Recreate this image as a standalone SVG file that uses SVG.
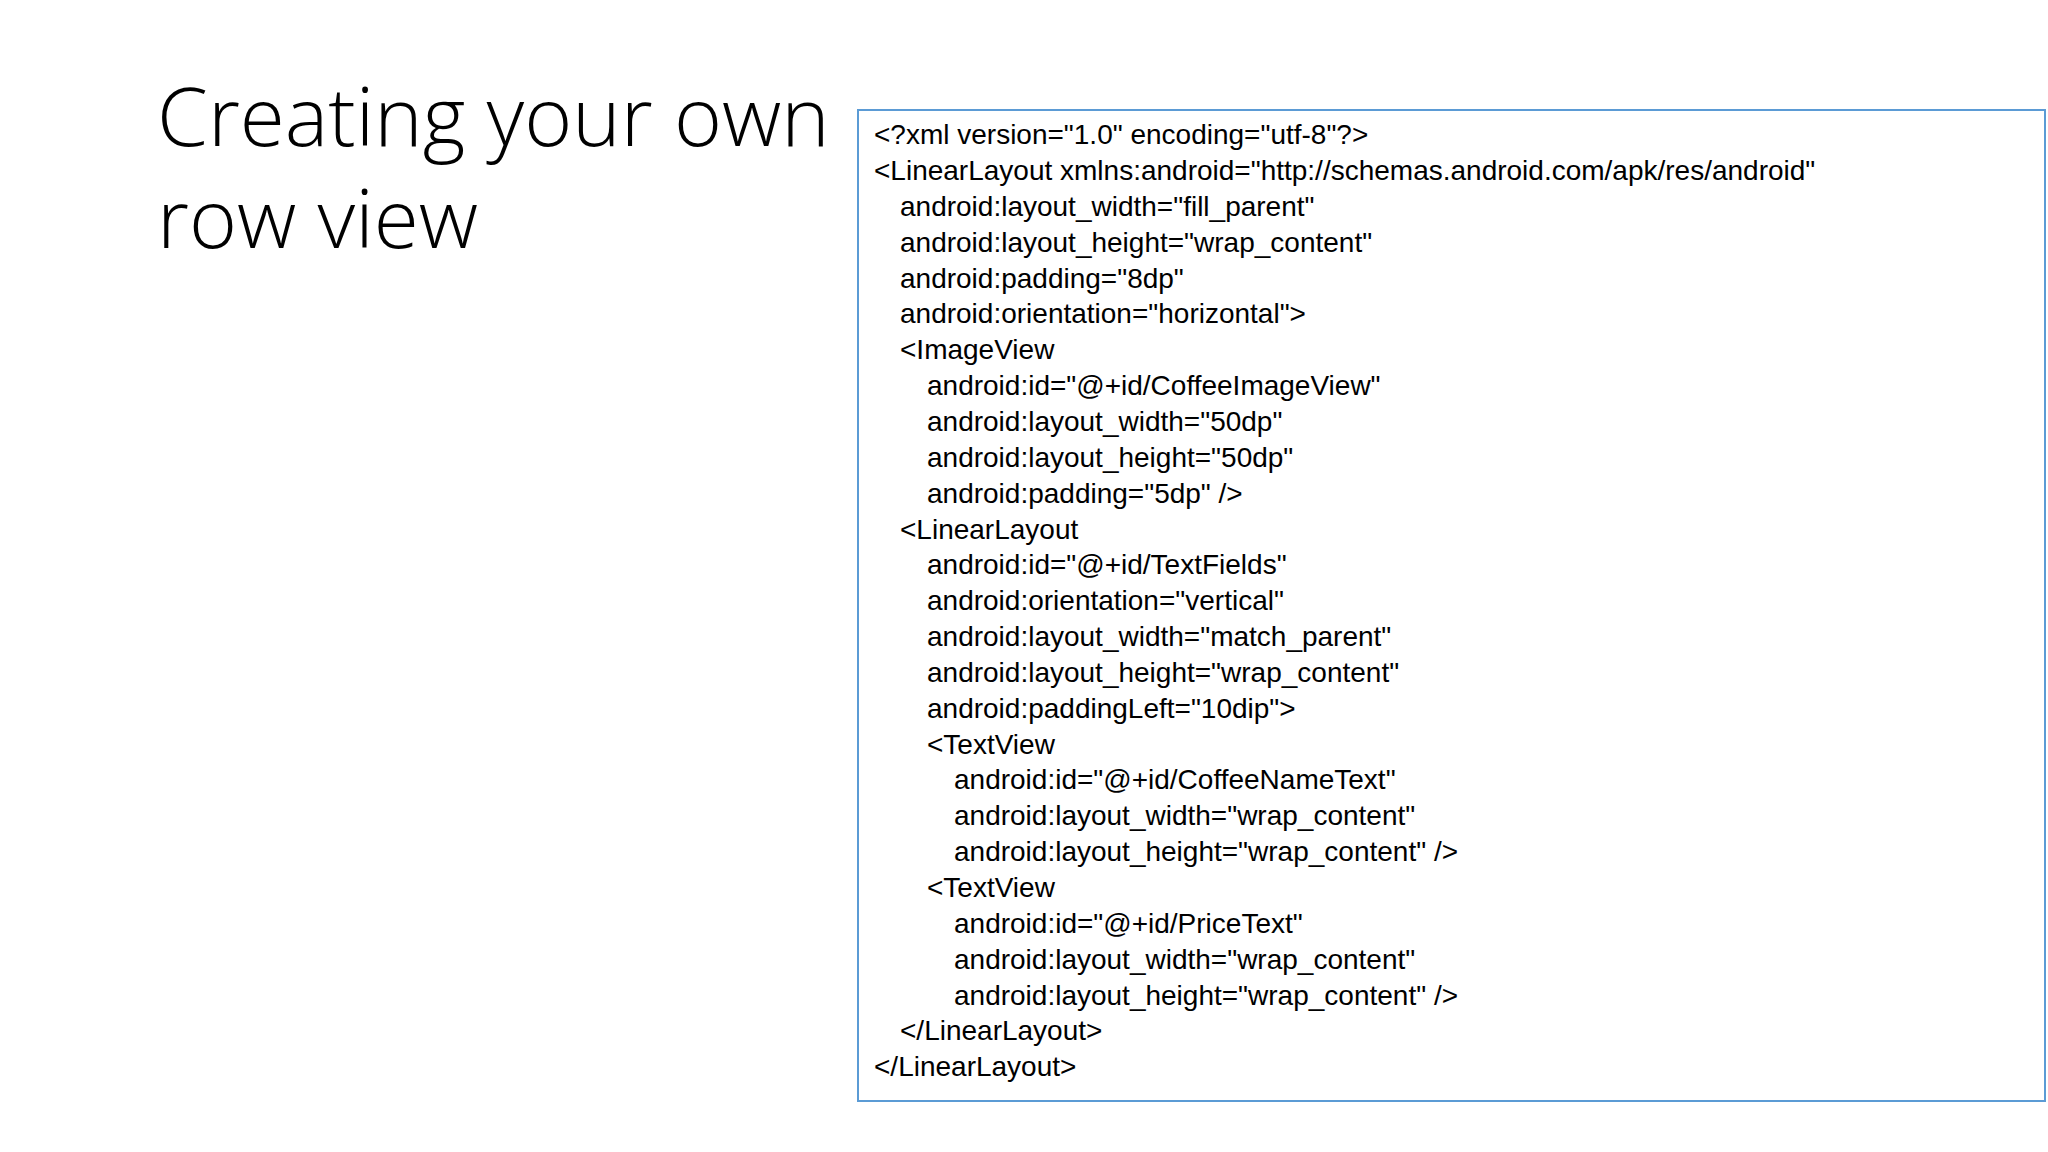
<svg xmlns="http://www.w3.org/2000/svg" width="2048" height="1152" viewBox="0 0 2048 1152">
<style>
.t{font-family:"Open Sans","Liberation Sans",sans-serif;font-size:82px;fill:#000;font-weight:300}
.c{font-family:"Liberation Sans","Open Sans",sans-serif;font-size:28px;fill:#000}
</style>
<rect width="2048" height="1152" fill="#fff"/>
<g id="title">
<text class="t" x="157" y="146">Creating your own</text>
<text class="t" x="157" y="248">row view</text>
</g>
<g id="code">
<rect x="858" y="110" width="1187" height="991" fill="#fff" stroke="#5b9bd5" stroke-width="2"/>
<text class="c" x="874" y="144">&lt;?xml version="1.0" encoding="utf-8"?&gt;</text>
<text class="c" x="874" y="180">&lt;LinearLayout xmlns:android="http://schemas.android.com/apk/res/android"</text>
<text class="c" x="900" y="216">android:layout_width="fill_parent"</text>
<text class="c" x="900" y="252">android:layout_height="wrap_content"</text>
<text class="c" x="900" y="288">android:padding="8dp"</text>
<text class="c" x="900" y="323">android:orientation="horizontal"&gt;</text>
<text class="c" x="900" y="359">&lt;ImageView</text>
<text class="c" x="927" y="395">android:id="@+id/CoffeeImageView"</text>
<text class="c" x="927" y="431">android:layout_width="50dp"</text>
<text class="c" x="927" y="467">android:layout_height="50dp"</text>
<text class="c" x="927" y="503">android:padding="5dp" /&gt;</text>
<text class="c" x="900" y="539">&lt;LinearLayout</text>
<text class="c" x="927" y="574">android:id="@+id/TextFields"</text>
<text class="c" x="927" y="610">android:orientation="vertical"</text>
<text class="c" x="927" y="646">android:layout_width="match_parent"</text>
<text class="c" x="927" y="682">android:layout_height="wrap_content"</text>
<text class="c" x="927" y="718">android:paddingLeft="10dip"&gt;</text>
<text class="c" x="927" y="754">&lt;TextView</text>
<text class="c" x="954" y="789">android:id="@+id/CoffeeNameText"</text>
<text class="c" x="954" y="825">android:layout_width="wrap_content"</text>
<text class="c" x="954" y="861">android:layout_height="wrap_content" /&gt;</text>
<text class="c" x="927" y="897">&lt;TextView</text>
<text class="c" x="954" y="933">android:id="@+id/PriceText"</text>
<text class="c" x="954" y="969">android:layout_width="wrap_content"</text>
<text class="c" x="954" y="1005">android:layout_height="wrap_content" /&gt;</text>
<text class="c" x="900" y="1040">&lt;/LinearLayout&gt;</text>
<text class="c" x="874" y="1076">&lt;/LinearLayout&gt;</text>
</g>
</svg>
